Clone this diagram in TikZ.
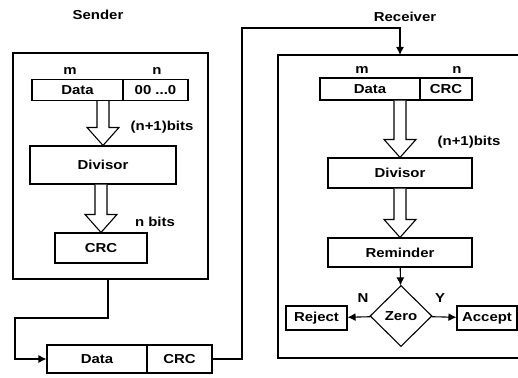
\documentclass[tikz,border=0pt]{standalone}
\usepackage{fontspec}
\setmainfont{Liberation Sans}[FakeStretch=1.15]
\usetikzlibrary{arrows.meta,calc,shapes.geometric}
\tikzset{blk/.style={draw, line width=1.1pt, inner sep=0pt, fill=white}}
\tikzset{arr/.style={draw, line width=1.1pt, -{Latex[length=8pt,width=8pt]}}}
\tikzset{fat/.style={draw, line width=1.1pt, fill=white, line join=miter}}
% hollow arrow from node #1 down to node #2
\newcommand{\fatarrow}[2]{%
	\draw[fat] ($(#1.south -| #2.north)+(-6,0)$) -- ($(#2.north)+(-6,-18)$) -- ($(#2.north)+(-16,-18)$)
		-- (#2.north) -- ($(#2.north)+(16,-18)$) -- ($(#2.north)+(6,-18)$) -- ($(#1.south -| #2.north)+(6,0)$);
}

\begin{document}
\begin{tikzpicture}[x=1pt, y=-1pt, font=\fontsize{13}{15}\selectfont\bfseries]
	\useasboundingbox (0,0) rectangle (518,377);
	
	% sender
	\node (Snd) at (98,15) {Sender};
	\draw[line width=1.1pt] (13,53) rectangle (208,279);
	\coordinate (Sout) at (108,279);
	\node (Sm) at (70,71) {m};
	\node (Sn) at (157,71) {n};
	\node[blk, minimum width=91pt, minimum height=21pt] (SD) at (77.5,90) {Data};
	\node[blk, minimum width=65pt, minimum height=21pt] (SZ) at (155.5,90) {00 ...0};
	\node[blk, minimum width=146pt, minimum height=38pt] (SDiv) at (103,165) {Divisor};
	\node[blk, minimum width=92pt, minimum height=30pt] (SCRC) at (101,248) {CRC};
	\fatarrow{SD}{SDiv}
	\fatarrow{SDiv}{SCRC}
	\node (Sb1) at (162,127) {(n+1)bits};
	\node (Sb2) at (155,222) {n bits};
	
	% frame on the line
	\node[blk, minimum width=100pt, minimum height=28pt] (FD) at (97,359) {Data};
	\node[blk, minimum width=65pt, minimum height=28pt] (FC) at (179.5,359) {CRC};
	\draw[arr] (Sout) -- (108,318) -- (15,318) |- (FD.west);
	\coordinate (Rin) at (400,55);
	\draw[arr] (FC.east) -- (242,359) -- (242,28) -| (Rin);
	
	% receiver
	\node (Rcv) at (405,17) {Receiver};
	\draw[line width=1.1pt] (518,55) -- (278,55) -- (278,358) -- (518,358);
	\node (Rm) at (362,70) {m};
	\node (Rn) at (457,70) {n};
	\node[blk, minimum width=100pt, minimum height=22pt] (RD) at (370,89) {Data};
	\node[blk, minimum width=52pt, minimum height=22pt] (RC) at (446,89) {CRC};
	\node[blk, minimum width=144pt, minimum height=30pt] (RDiv) at (400,173) {Divisor};
	\node[blk, minimum width=144pt, minimum height=29pt] (RRem) at (400,252.5) {Reminder};
	\fatarrow{RD}{RDiv}
	\fatarrow{RDiv}{RRem}
	\node (Rb1) at (469,142) {(n+1)bits};
	\node[blk, diamond, minimum width=62pt, minimum height=61pt] (Zero) at (401,316) {Zero};
	\node[blk, minimum width=61pt, minimum height=24pt] (Rej) at (316.5,318) {Reject};
	\node[blk, minimum width=60pt, minimum height=24pt] (Acc) at (487,318) {Accept};
	\draw[arr] (RRem) -- (Zero);
	\draw[arr] (Zero) -- (Rej);
	\draw[arr] (Zero) -- (Acc);
	\node (N) at (363,298) {N};
	\node (Y) at (440,298) {Y};
\end{tikzpicture}
\end{document}
